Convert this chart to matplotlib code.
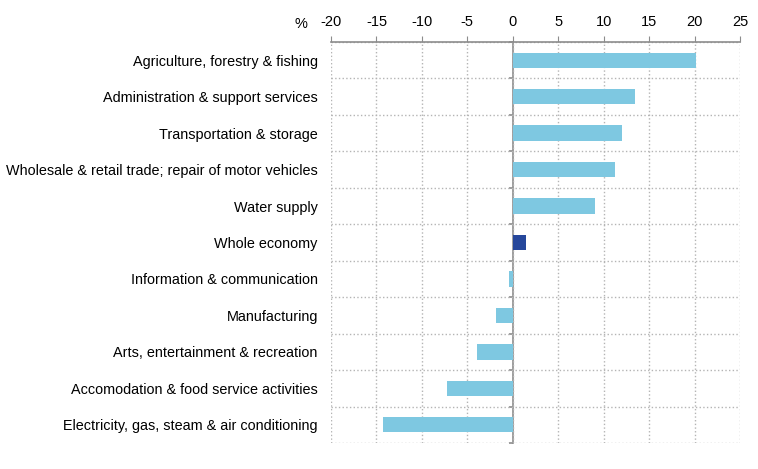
import matplotlib
matplotlib.use("Agg")
import matplotlib.pyplot as plt
import numpy as np

plt.rcParams['font.family'] = ['Liberation Sans', 'DejaVu Sans']

# Data (% change)
sectors = [
    "Agriculture, forestry & fishing",
    "Administration & support services",
    "Transportation & storage",
    "Wholesale & retail trade; repair of motor vehicles",
    "Water supply",
    "Whole economy",
    "Information & communication",
    "Manufacturing",
    "Arts, entertainment & recreation",
    "Accomodation & food service activities",
    "Electricity, gas, steam & air conditioning",
]
values = [20.2, 13.5, 12.0, 11.2, 9.0, 1.5, -0.4, -1.9, -3.9, -7.2, -14.3]
highlight = "Whole economy"
x_ticks = [-20, -15, -10, -5, 0, 5, 10, 15, 20, 25]

light_blue = "#7ec8e1"
dark_blue = "#26479b"
grid_col = "#b4b4b4"
axis_col = "#8c8c8c"

fig = plt.figure(figsize=(7.58, 4.69), dpi=100)
ax = fig.add_axes([331 / 758, 1 - 443 / 469, 409 / 758, 401 / 469])

pos = np.arange(len(sectors))
colors = [dark_blue if s == highlight else light_blue for s in sectors]
ax.barh(pos, values, height=0.42, color=colors, zorder=3)

ax.set_xlim(-20, 25)
ax.set_ylim(len(sectors) - 0.5, -0.5)

# ticks on top
ax.xaxis.tick_top()
ax.set_xticks(x_ticks)
ax.set_xticklabels([str(t) for t in x_ticks], fontsize=10.5)
ax.tick_params(axis='x', direction='out', length=4, color=axis_col, pad=5.5)

ax.set_yticks(pos)
ax.set_yticklabels(sectors, fontsize=10.4)
ax.tick_params(axis='y', length=0, pad=9.5)

# grid: dotted verticals at ticks, dotted horizontals at category boundaries
ax.set_yticks(np.arange(len(sectors) + 1) - 0.5, minor=True)
ax.tick_params(axis='y', which='minor', length=0)
ax.grid(True, axis='x', which='major', linestyle=':', color=grid_col, linewidth=1, zorder=0)
ax.grid(True, axis='y', which='minor', linestyle=':', color=grid_col, linewidth=1, zorder=0)

for side in ['left', 'right', 'bottom']:
    ax.spines[side].set_visible(False)
ax.spines['top'].set_color(axis_col)
ax.spines['top'].set_linewidth(1.2)

# zero line with small ticks at category boundaries
zero_axis = ax.secondary_yaxis(20 / 45)
zero_axis.set_yticks(np.arange(len(sectors) + 1) - 0.5)
zero_axis.set_yticklabels([])
zero_axis.tick_params(axis='y', direction='out', length=3, color=axis_col, width=1.2)
zero_axis.spines['left'].set_color(axis_col)
zero_axis.spines['left'].set_linewidth(1.2)

# "%" unit label beside the tick labels
fig.text(301 / 758, 1 - 24 / 469, "%", fontsize=10.5, ha='center', va='center')

fig.savefig("out.png", dpi=100)
